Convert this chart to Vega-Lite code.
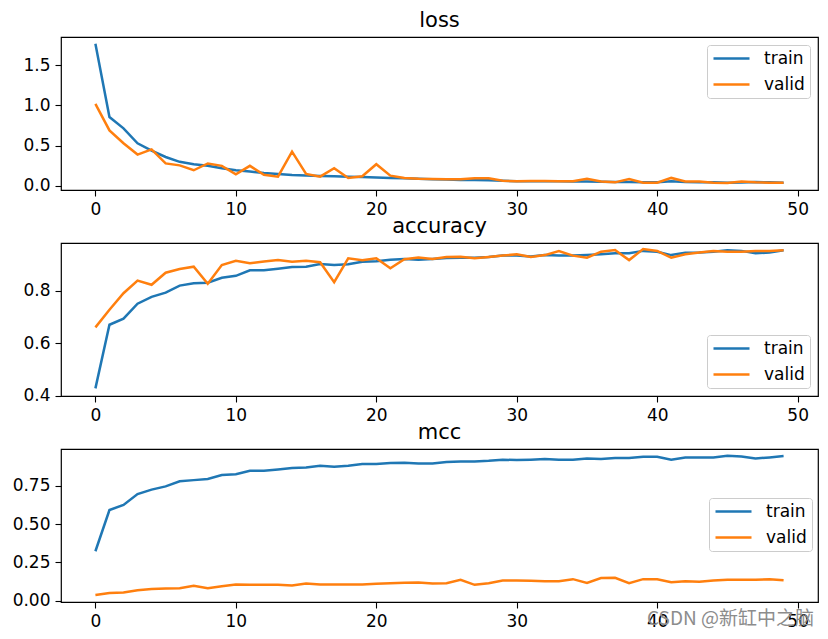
{
  "$schema": "https://vega.github.io/schema/vega-lite/v6.json",
  "padding": {"left": 5, "top": 9, "right": 6, "bottom": 5},
  "background": "white",
  "datasets": {
    "loss": [
      {"epoch":0,"train":1.766,"valid":1.02},{"epoch":1,"train":0.856,"valid":0.69},{"epoch":2,"train":0.715,"valid":0.53},{"epoch":3,"train":0.53,"valid":0.39},{"epoch":4,"train":0.44,"valid":0.455},
      {"epoch":5,"train":0.36,"valid":0.28},{"epoch":6,"train":0.30,"valid":0.256},{"epoch":7,"train":0.27,"valid":0.195},{"epoch":8,"train":0.25,"valid":0.28},{"epoch":9,"train":0.22,"valid":0.25},
      {"epoch":10,"train":0.195,"valid":0.145},{"epoch":11,"train":0.18,"valid":0.25},{"epoch":12,"train":0.16,"valid":0.14},{"epoch":13,"train":0.15,"valid":0.116},{"epoch":14,"train":0.135,"valid":0.426},
      {"epoch":15,"train":0.13,"valid":0.15},{"epoch":16,"train":0.125,"valid":0.116},{"epoch":17,"train":0.12,"valid":0.22},{"epoch":18,"train":0.115,"valid":0.10},{"epoch":19,"train":0.11,"valid":0.12},
      {"epoch":20,"train":0.105,"valid":0.27},{"epoch":21,"train":0.10,"valid":0.128},{"epoch":22,"train":0.095,"valid":0.10},{"epoch":23,"train":0.09,"valid":0.09},{"epoch":24,"train":0.085,"valid":0.088},
      {"epoch":25,"train":0.08,"valid":0.083},{"epoch":26,"train":0.075,"valid":0.083},{"epoch":27,"train":0.075,"valid":0.095},{"epoch":28,"train":0.07,"valid":0.095},{"epoch":29,"train":0.065,"valid":0.065},
      {"epoch":30,"train":0.06,"valid":0.06},{"epoch":31,"train":0.06,"valid":0.062},{"epoch":32,"train":0.058,"valid":0.062},{"epoch":33,"train":0.058,"valid":0.06},{"epoch":34,"train":0.055,"valid":0.06},
      {"epoch":35,"train":0.055,"valid":0.09},{"epoch":36,"train":0.052,"valid":0.055},{"epoch":37,"train":0.05,"valid":0.045},{"epoch":38,"train":0.05,"valid":0.085},{"epoch":39,"train":0.045,"valid":0.04},
      {"epoch":40,"train":0.045,"valid":0.04},{"epoch":41,"train":0.06,"valid":0.10},{"epoch":42,"train":0.048,"valid":0.055},{"epoch":43,"train":0.046,"valid":0.055},{"epoch":44,"train":0.045,"valid":0.04},
      {"epoch":45,"train":0.04,"valid":0.038},{"epoch":46,"train":0.042,"valid":0.055},{"epoch":47,"train":0.05,"valid":0.045},{"epoch":48,"train":0.045,"valid":0.04},{"epoch":49,"train":0.04,"valid":0.04}
    ],
    "accuracy": [
      {"epoch":0,"train":0.428,"valid":0.660},{"epoch":1,"train":0.670,"valid":0.727},{"epoch":2,"train":0.693,"valid":0.790},{"epoch":3,"train":0.750,"valid":0.838},{"epoch":4,"train":0.776,"valid":0.822},
      {"epoch":5,"train":0.792,"valid":0.868},{"epoch":6,"train":0.819,"valid":0.882},{"epoch":7,"train":0.828,"valid":0.891},{"epoch":8,"train":0.830,"valid":0.826},{"epoch":9,"train":0.849,"valid":0.897},
      {"epoch":10,"train":0.856,"valid":0.913},{"epoch":11,"train":0.877,"valid":0.904},{"epoch":12,"train":0.877,"valid":0.911},{"epoch":13,"train":0.883,"valid":0.916},{"epoch":14,"train":0.890,"valid":0.910},
      {"epoch":15,"train":0.891,"valid":0.913},{"epoch":16,"train":0.901,"valid":0.908},{"epoch":17,"train":0.897,"valid":0.832},{"epoch":18,"train":0.900,"valid":0.923},{"epoch":19,"train":0.910,"valid":0.915},
      {"epoch":20,"train":0.912,"valid":0.923},{"epoch":21,"train":0.917,"valid":0.885},{"epoch":22,"train":0.920,"valid":0.919},{"epoch":23,"train":0.917,"valid":0.926},{"epoch":24,"train":0.920,"valid":0.920},
      {"epoch":25,"train":0.924,"valid":0.928},{"epoch":26,"train":0.925,"valid":0.929},{"epoch":27,"train":0.925,"valid":0.923},{"epoch":28,"train":0.928,"valid":0.928},{"epoch":29,"train":0.933,"valid":0.933},
      {"epoch":30,"train":0.933,"valid":0.938},{"epoch":31,"train":0.930,"valid":0.928},{"epoch":32,"train":0.935,"valid":0.935},{"epoch":33,"train":0.933,"valid":0.950},{"epoch":34,"train":0.933,"valid":0.933},
      {"epoch":35,"train":0.935,"valid":0.925},{"epoch":36,"train":0.938,"valid":0.948},{"epoch":37,"train":0.942,"valid":0.954},{"epoch":38,"train":0.942,"valid":0.916},{"epoch":39,"train":0.951,"valid":0.958},
      {"epoch":40,"train":0.948,"valid":0.951},{"epoch":41,"train":0.935,"valid":0.925},{"epoch":42,"train":0.944,"valid":0.938},{"epoch":43,"train":0.945,"valid":0.945},{"epoch":44,"train":0.948,"valid":0.951},
      {"epoch":45,"train":0.953,"valid":0.948},{"epoch":46,"train":0.951,"valid":0.948},{"epoch":47,"train":0.942,"valid":0.951},{"epoch":48,"train":0.945,"valid":0.951},{"epoch":49,"train":0.953,"valid":0.953}
    ],
    "mcc": [
      {"epoch":0,"train":0.323,"valid":0.037},{"epoch":1,"train":0.592,"valid":0.050},{"epoch":2,"train":0.625,"valid":0.054},{"epoch":3,"train":0.696,"valid":0.069},{"epoch":4,"train":0.725,"valid":0.076},
      {"epoch":5,"train":0.746,"valid":0.080},{"epoch":6,"train":0.779,"valid":0.082},{"epoch":7,"train":0.787,"valid":0.098},{"epoch":8,"train":0.794,"valid":0.082},{"epoch":9,"train":0.820,"valid":0.095},
      {"epoch":10,"train":0.826,"valid":0.106},{"epoch":11,"train":0.848,"valid":0.104},{"epoch":12,"train":0.848,"valid":0.104},{"epoch":13,"train":0.857,"valid":0.104},{"epoch":14,"train":0.866,"valid":0.100},
      {"epoch":15,"train":0.870,"valid":0.113},{"epoch":16,"train":0.881,"valid":0.106},{"epoch":17,"train":0.874,"valid":0.106},{"epoch":18,"train":0.881,"valid":0.106},{"epoch":19,"train":0.892,"valid":0.106},
      {"epoch":20,"train":0.892,"valid":0.111},{"epoch":21,"train":0.898,"valid":0.115},{"epoch":22,"train":0.900,"valid":0.117},{"epoch":23,"train":0.896,"valid":0.119},{"epoch":24,"train":0.896,"valid":0.113},
      {"epoch":25,"train":0.905,"valid":0.115},{"epoch":26,"train":0.909,"valid":0.137},{"epoch":27,"train":0.909,"valid":0.104},{"epoch":28,"train":0.913,"valid":0.115},{"epoch":29,"train":0.920,"valid":0.132},
      {"epoch":30,"train":0.918,"valid":0.132},{"epoch":31,"train":0.920,"valid":0.130},{"epoch":32,"train":0.924,"valid":0.128},{"epoch":33,"train":0.920,"valid":0.128},{"epoch":34,"train":0.920,"valid":0.141},
      {"epoch":35,"train":0.928,"valid":0.117},{"epoch":36,"train":0.924,"valid":0.148},{"epoch":37,"train":0.931,"valid":0.150},{"epoch":38,"train":0.931,"valid":0.115},{"epoch":39,"train":0.939,"valid":0.141},
      {"epoch":40,"train":0.939,"valid":0.141},{"epoch":41,"train":0.920,"valid":0.121},{"epoch":42,"train":0.935,"valid":0.128},{"epoch":43,"train":0.935,"valid":0.124},{"epoch":44,"train":0.935,"valid":0.132},
      {"epoch":45,"train":0.946,"valid":0.137},{"epoch":46,"train":0.941,"valid":0.137},{"epoch":47,"train":0.928,"valid":0.137},{"epoch":48,"train":0.935,"valid":0.141},{"epoch":49,"train":0.944,"valid":0.134}
    ]
  },
  "title": {
    "text": "CSDN @新缸中之脑",
    "orient": "bottom",
    "anchor": "end",
    "offset": -20,
    "dx": -4,
    "font": "Noto Sans CJK SC",
    "fontSize": 19,
    "fontWeight": "normal",
    "color": "#8c8c8c",
    "opacity": 0.85
  },
  "spacing": -3,
  "vconcat": [
    {
      "title": {"text": "loss"},
      "width": 757,
      "height": 153,
      "data": {"name": "loss"},
      "transform": [{"fold": ["train", "valid"], "as": ["split", "value"]}],
      "mark": {"type": "line", "strokeWidth": 2.5, "clip": true},
      "encoding": {
        "x": {"field": "epoch", "type": "quantitative", "scale": {"domain": [-2.45, 51.45], "nice": false, "zero": false}, "axis": {"values": [0, 10, 20, 30, 40, 50], "format": "d"}},
        "y": {"field": "value", "type": "quantitative", "scale": {"domain": [-0.05, 1.85], "nice": false, "zero": false}, "axis": {"values": [0, 0.5, 1.0, 1.5], "format": ".1f"}},
        "color": {"field": "split", "type": "nominal", "scale": {"domain": ["train", "valid"], "range": ["#1f77b4", "#ff7f0e"]}, "legend": {"orient": "top-right", "offset": 8}}
      }
    },
    {
      "title": {"text": "accuracy"},
      "width": 757,
      "height": 153,
      "data": {"name": "accuracy"},
      "transform": [{"fold": ["train", "valid"], "as": ["split", "value"]}],
      "mark": {"type": "line", "strokeWidth": 2.5, "clip": true},
      "encoding": {
        "x": {"field": "epoch", "type": "quantitative", "scale": {"domain": [-2.45, 51.45], "nice": false, "zero": false}, "axis": {"values": [0, 10, 20, 30, 40, 50], "format": "d"}},
        "y": {"field": "value", "type": "quantitative", "scale": {"domain": [0.399, 0.981], "nice": false, "zero": false}, "axis": {"values": [0.4, 0.6, 0.8], "format": ".1f"}},
        "color": {"field": "split", "type": "nominal", "scale": {"domain": ["train", "valid"], "range": ["#1f77b4", "#ff7f0e"]}, "legend": {"orient": "bottom-right", "offset": 8}}
      }
    },
    {
      "title": {"text": "mcc"},
      "width": 757,
      "height": 153,
      "data": {"name": "mcc"},
      "transform": [{"fold": ["train", "valid"], "as": ["split", "value"]}],
      "mark": {"type": "line", "strokeWidth": 2.5, "clip": true},
      "encoding": {
        "x": {"field": "epoch", "type": "quantitative", "scale": {"domain": [-2.45, 51.45], "nice": false, "zero": false}, "axis": {"values": [0, 10, 20, 30, 40, 50], "format": "d"}},
        "y": {"field": "value", "type": "quantitative", "scale": {"domain": [-0.008, 0.99], "nice": false, "zero": false}, "axis": {"values": [0, 0.25, 0.5, 0.75], "format": ".2f"}},
        "color": {"field": "split", "type": "nominal", "scale": {"domain": ["train", "valid"], "range": ["#1f77b4", "#ff7f0e"]}, "legend": {"orient": "none", "legendX": 648, "legendY": 49}}
      }
    }
  ],
  "config": {
    "font": "DejaVu Sans",
    "view": {"stroke": "#000000", "strokeWidth": 1.2},
    "title": {"fontSize": 21, "fontWeight": "normal", "color": "#000000", "offset": 6, "anchor": "middle", "frame": "group"},
    "axis": {
      "domain": false,
      "grid": false,
      "ticks": true,
      "tickColor": "#000000",
      "tickWidth": 1.1,
      "tickSize": 6,
      "labelFontSize": 17,
      "labelColor": "#000000",
      "labelPadding": 5,
      "title": null,
      "labelFont": "DejaVu Sans"
    },
    "axisX": {"minExtent": 26, "maxExtent": 26, "labelFlush": false},
    "axisY": {"minExtent": 55, "maxExtent": 55, "labelFlush": false},
    "legend": {
      "title": null,
      "symbolType": "stroke",
      "symbolSize": 1296,
      "symbolStrokeWidth": 2.5,
      "clipHeight": 17,
      "labelFontSize": 17,
      "labelFont": "DejaVu Sans",
      "labelColor": "#000000",
      "labelOffset": 13,
      "padding": 5,
      "rowPadding": 8,
      "fillColor": "rgba(255,255,255,0.8)",
      "strokeColor": "#cccccc",
      "strokeWidth": 1,
      "cornerRadius": 3
    }
  }
}
